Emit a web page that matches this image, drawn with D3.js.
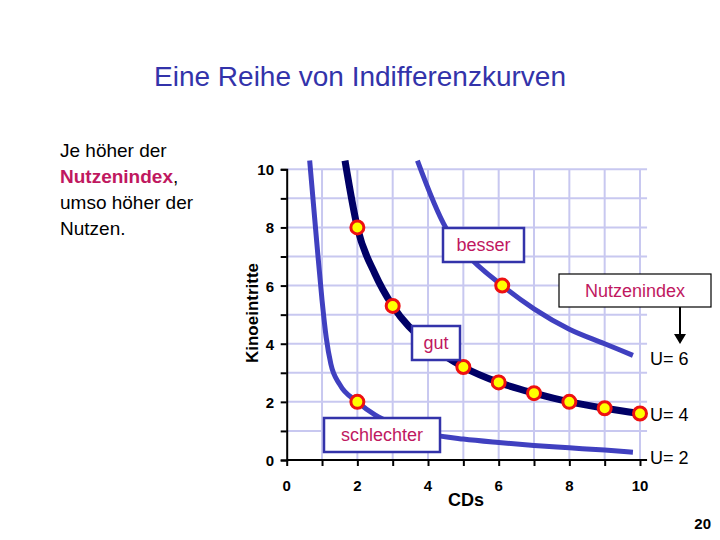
<!DOCTYPE html><html><head><meta charset="utf-8"><script src="https://cdn.jsdelivr.net/npm/d3@7"></script>
<style>body{margin:0;background:#fff}text{font-family:Arial,"Liberation Sans",sans-serif}</style></head><body><svg id="c" width="720" height="540"></svg>
<script>
const xTicks=[0,2,4,6,8,10];
const yTicks=[0,2,4,6,8,10];
const curveU2=[[0.65,10.3],[0.85,7.5],[1.0,5.5],[1.12,4.2],[1.25,3.3],[1.5,2.6],[2,2],[2.5,1.55],[3,1.25],[4,0.9],[5,0.72],[6,0.6],[7,0.5],[8,0.42],[9,0.34],[9.8,0.27]];
const curveU4=[[1.65,10.3],[2,8],[2.5,6.4],[3,5.3],[4,4.0],[5,3.2],[6,2.67],[7,2.3],[8,2],[9,1.78],[10,1.6]];
const curveU6=[[3.7,10.3],[4.5,8.0],[5,7.2],[6.1,6],[7,5.2],[8,4.5],[9,4.0],[9.8,3.6]];
const pointsU4=[[2,8],[3,5.3],[5,3.2],[6,2.67],[7,2.3],[8,2],[9,1.78],[10,1.6]];
const extraPoints=[[2,2],[6.1,6]];
const uLabels=[["U= 6",3.6],["U= 4",1.6],["U= 2",0.3]];
const svg=d3.select("#c");
const x=d3.scaleLinear().domain([0,10]).range([286.7,640]);
const y=d3.scaleLinear().domain([0,10]).range([460,169.3]);
const grid=d3.range(0,11);
svg.append("g").selectAll("line").data(grid.slice(1)).join("line").attr("x1",d=>x(d)).attr("x2",d=>x(d)).attr("y1",y(0)).attr("y2",y(10)).attr("stroke","#c8c8f0").attr("stroke-width",2);
svg.append("g").selectAll("line").data(grid.slice(1)).join("line").attr("y1",d=>y(d)).attr("y2",d=>y(d)).attr("x1",x(0)).attr("x2",x(10.2)).attr("stroke","#c8c8f0").attr("stroke-width",2);
// axes
const gx=svg.append("g").attr("transform",`translate(0,${y(0)})`).call(d3.axisBottom(x).ticks(10).tickSize(6).tickFormat(""));
gx.select(".domain").attr("d",`M${x(0)},0H${x(10.2)}`);
const gy=svg.append("g").attr("transform",`translate(${x(0)},0)`).call(d3.axisLeft(y).ticks(10).tickSize(6).tickFormat(""));
svg.selectAll(".domain,.tick line").attr("stroke","#000").attr("stroke-width",2);
svg.append("g").selectAll("text").data(xTicks).join("text").attr("x",d=>x(d)).attr("y",491).attr("text-anchor","middle").attr("font-size",15).attr("font-weight","bold").text(d=>d);
svg.append("g").selectAll("text").data(yTicks).join("text").attr("x",274).attr("y",d=>y(d)+6).attr("text-anchor","end").attr("font-size",15).attr("font-weight","bold").text(d=>d);
const line=d3.line().x(d=>x(d[0])).y(d=>y(d[1])).curve(d3.curveMonotoneX);
const clip=svg.append("clipPath").attr("id","cl").append("rect").attr("x",0).attr("y",y(10)-12).attr("width",720).attr("height",400);
[[curveU2,"#4040c0",5],[curveU6,"#4040c0",5],[curveU4,"#000066",7]].forEach(([d,c,w])=>svg.append("path").attr("clip-path","url(#cl)").attr("d",line(d)).attr("fill","none").attr("stroke",c).attr("stroke-width",w));
svg.append("g").selectAll("circle").data(pointsU4.concat(extraPoints)).join("circle").attr("cx",d=>x(d[0])).attr("cy",d=>y(d[1])).attr("r",6.5).attr("fill","#ffff00").attr("stroke","#ee1111").attr("stroke-width",3);
function box(x0,y0,w,h,t,stroke,sw){svg.append("rect").attr("x",x0).attr("y",y0).attr("width",w).attr("height",h).attr("fill","#fff").attr("stroke",stroke).attr("stroke-width",sw);
svg.append("text").attr("x",x0+w/2).attr("y",y0+h/2+6).attr("text-anchor","middle").attr("font-size",18).attr("fill","#c0185f").text(t);}
box(443,228,81,34,"besser","#3333aa",2.5);
box(559,274,152,33,"Nutzenindex","#000",1.2);
box(412,326,48,34,"gut","#3333aa",2.5);
box(324,418,116,34,"schlechter","#3333aa",2.5);
svg.append("line").attr("x1",680).attr("x2",680).attr("y1",307).attr("y2",336).attr("stroke","#000").attr("stroke-width",2);
svg.append("path").attr("d","M674,334L686,334L680,344Z").attr("fill","#000");
svg.append("g").selectAll("text").data(uLabels).join("text").attr("x",650).attr("y",(d,i)=>[365,421,464][i]).attr("font-size",18).text(d=>d[0]);
svg.append("text").attr("x",360).attr("y",86).attr("text-anchor","middle").attr("font-size",28).attr("fill","#3333aa").text("Eine Reihe von Indifferenzkurven");
const lt=svg.append("text").attr("font-size",19).attr("fill","#000");
lt.append("tspan").attr("x",60).attr("y",157).text("Je höher der");
lt.append("tspan").attr("x",60).attr("y",183).attr("fill","#c0185f").attr("font-weight","bold").text("Nutzenindex");
lt.append("tspan").text(",");
lt.append("tspan").attr("x",60).attr("y",209).text("umso höher der");
lt.append("tspan").attr("x",60).attr("y",235).text("Nutzen.");
svg.append("text").attr("transform","translate(258,313) rotate(-90)").attr("text-anchor","middle").attr("font-size",17).attr("font-weight","bold").text("Kinoeintritte");
svg.append("text").attr("x",466).attr("y",506).attr("text-anchor","middle").attr("font-size",18).attr("font-weight","bold").text("CDs");
svg.append("text").attr("x",711).attr("y",529).attr("text-anchor","end").attr("font-size",15).attr("font-weight","bold").text("20");
</script></body></html>
